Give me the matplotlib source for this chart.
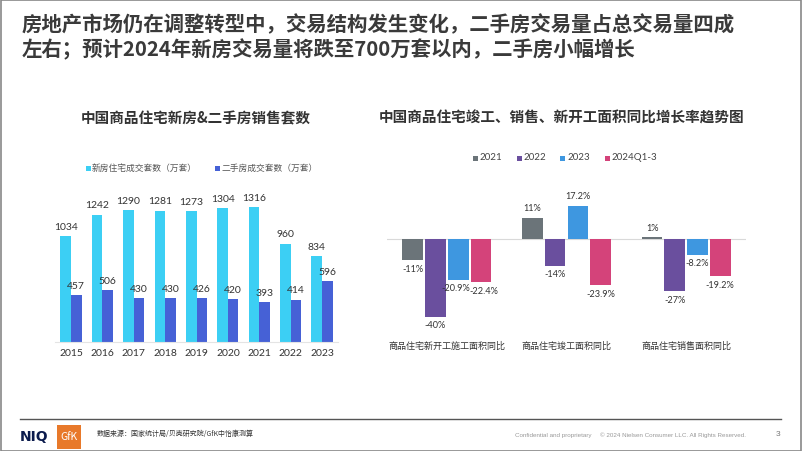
import matplotlib.pyplot as plt
from matplotlib.patches import Rectangle
from matplotlib.lines import Line2D

plt.rcParams['font.family'] = ['Noto Sans CJK SC', 'DejaVu Sans']

# left chart data
years = ['2015', '2016', '2017', '2018', '2019', '2020', '2021', '2022', '2023']
new_homes = [1034, 1242, 1290, 1281, 1273, 1304, 1316, 960, 834]
second_hand = [457, 506, 430, 430, 426, 420, 393, 414, 596]
left_series = ['新房住宅成交套数（万套）', '二手房成交套数（万套）']

# right chart data
categories = ['商品住宅新开工施工面积同比', '商品住宅竣工面积同比', '商品住宅销售面积同比']
periods = ['2021', '2022', '2023', '2024Q1-3']
growth = {
    '2021': [-11, 11, 1],
    '2022': [-40, -14, -27],
    '2023': [-20.9, 17.2, -8.2],
    '2024Q1-3': [-22.4, -23.9, -19.2],
}
growth_labels = {
    '2021': ['-11%', '11%', '1%'],
    '2022': ['-40%', '-14%', '-27%'],
    '2023': ['-20.9%', '17.2%', '-8.2%'],
    '2024Q1-3': ['-22.4%', '-23.9%', '-19.2%'],
}

W, H = 802, 451
fig = plt.figure(figsize=(W / 100, H / 100), dpi=100)
fig.patch.set_facecolor('white')

def fx(px):
    return px / W

def fy(py):
    return 1 - py / H

txt = '#333333'
num_font = ['Lato', 'Noto Sans CJK SC']

def legend_box(px, py, color):
    fig.add_artist(Rectangle((fx(px), fy(py + 2.5)), fx(5), fy(0) - fy(5),
                             facecolor=color, edgecolor='none'))

# headline
fig.text(fx(22), fy(25), '房地产市场仍在调整转型中，交易结构发生变化，二手房交易量占总交易量四成',
         fontsize=14.7, color='#3A3A3A', va='center', ha='left', fontweight='bold')
fig.text(fx(22), fy(50), '左右；预计2024年新房交易量将跌至700万套以内，二手房小幅增长',
         fontsize=14.7, color='#3A3A3A', va='center', ha='left', fontweight='bold')

# ---- left chart ----
fig.text(fx(196), fy(118), '中国商品住宅新房&二手房销售套数', fontsize=10.5, color=txt,
         ha='center', va='center', fontweight='bold')

c_new = '#3CCFF4'
c_old = '#4661D6'
ax1 = fig.add_axes([fx(55.3), fy(342), fx(337.7) - fx(55.3), fy(180) - fy(342)])
x = list(range(len(years)))
bw = 0.335
ax1.bar([i - bw / 2 for i in x], new_homes, width=bw, color=c_new)
ax1.bar([i + bw / 2 for i in x], second_hand, width=bw, color=c_old)
for i in x:
    ax1.text(i - bw / 2, new_homes[i] + 40, str(new_homes[i]), ha='center', va='bottom',
             fontsize=7.5, color=txt, family=num_font)
    ax1.text(i + bw / 2, second_hand[i] + 40, str(second_hand[i]), ha='center', va='bottom',
             fontsize=7.5, color=txt, family=num_font)
ax1.set_xlim(-0.5, len(years) - 0.5)
ax1.set_ylim(0, 1316 * 162 / 135)
ax1.set_xticks(x)
ax1.set_xticklabels(years, fontsize=7.5, color=txt, family=num_font)
ax1.tick_params(axis='x', length=0, pad=5)
ax1.set_yticks([])
for s in ['top', 'right', 'left']:
    ax1.spines[s].set_visible(False)
ax1.spines['bottom'].set_color('#E4E4E4')
ax1.set_facecolor('none')

legend_box(86, 168, c_new)
fig.text(fx(92), fy(168), left_series[0], fontsize=6.3, color='#555555', ha='left', va='center')
legend_box(215, 168, c_old)
fig.text(fx(221), fy(168), left_series[1], fontsize=6.3, color='#555555', ha='left', va='center')

# ---- right chart ----
fig.text(fx(562), fy(118), '中国商品住宅竣工、销售、新开工面积同比增长率趋势图', fontsize=10.5,
         color=txt, ha='center', va='center', fontweight='bold')

colors = {'2021': '#6B7479', '2022': '#6A4F9E', '2023': '#3E97E0', '2024Q1-3': '#D4437A'}
ax2 = fig.add_axes([fx(387), fy(330), fx(746) - fx(387), fy(180) - fy(330)])
ymax = (239 - 180) / 1.94
ymin = -(330 - 239) / 1.94
step = 0.19
bw2 = 0.173
for k, p in enumerate(periods):
    off = (k - 1.5) * step
    vals = growth[p]
    for j, v in enumerate(vals):
        ax2.bar(j + off, v, width=bw2, color=colors[p])
        # small nudge so the two crowded labels of the first group don't collide
        nudge = 0.0
        if j == 0 and p == '2023':
            nudge = -0.02
        elif j == 0 and p == '2024Q1-3':
            nudge = 0.025
        if v >= 0:
            ax2.text(j + off + nudge, v + 2.2, growth_labels[p][j], ha='center', va='bottom',
                     fontsize=6.6, color=txt, family=num_font)
        else:
            ax2.text(j + off + nudge, v - 2.2, growth_labels[p][j], ha='center', va='top',
                     fontsize=6.6, color=txt, family=num_font)
ax2.axhline(0, color='#D9D9D9', lw=0.8, zorder=0)
ax2.set_xlim(-0.5, 2.5)
ax2.set_ylim(ymin, ymax)
ax2.set_xticks([])
ax2.set_yticks([])
for s in ax2.spines.values():
    s.set_visible(False)
ax2.set_facecolor('none')
for j, c in enumerate(categories):
    fig.text(fx(447 + 119.5 * j), fy(346), c, fontsize=6.5, color=txt, ha='center', va='center')

leg_x = [473, 517, 560, 605]
for p, lx in zip(periods, leg_x):
    legend_box(lx, 158, colors[p])
    fig.text(fx(lx + 7), fy(158), p, fontsize=7, color='#444444', ha='left', va='center',
             family=num_font)

# ---- footer ----
fig.add_artist(Line2D([fx(20), fx(781)], [fy(419), fy(419)], color='#555555', lw=1))
fig.text(fx(20), fy(437), 'NIQ', fontsize=10, fontweight='bold', color='#0B1B4D',
         ha='left', va='center', family=['DejaVu Sans'])
fig.add_artist(Rectangle((fx(57), fy(449)), fx(81) - fx(57), fy(425) - fy(449),
                         facecolor='#E8792A', edgecolor='none'))
fig.text(fx(69), fy(437), 'GfK', fontsize=7.5, color='white', ha='center', va='center')
fig.text(fx(97), fy(434), '数据来源：国家统计局/贝壳研究院/GfK中怡康测算', fontsize=5,
         color='#333333', ha='left', va='center')
fig.text(fx(515), fy(435), 'Confidential and proprietary', fontsize=4.5, color='#999999',
         ha='left', va='center', family=['Liberation Sans'])
fig.text(fx(600), fy(435), '© 2024 Nielsen Consumer LLC. All Rights Reserved.', fontsize=4.5,
         color='#999999', ha='left', va='center', family=['Liberation Sans'])
fig.text(fx(778), fy(435), '3', fontsize=6, color='#777777', ha='center', va='center',
         family=['Liberation Sans'])

# slide border
fig.add_artist(Rectangle((0.0008, 0.001), 0.9984, 0.998, facecolor='none',
                         edgecolor='#888888', lw=1.2))

fig.savefig('out.png', dpi=100)
